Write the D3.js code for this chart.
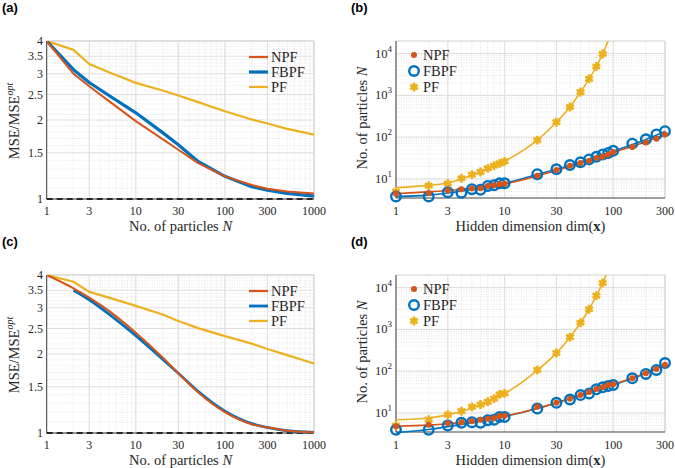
<!DOCTYPE html>
<html><head><meta charset="utf-8">
<script src="https://cdn.jsdelivr.net/npm/d3@7"></script>
<style>body{margin:0;background:#fff}text{font-family:"Liberation Serif","Times New Roman",serif;fill:#262626}</style>
</head><body>
<svg id="chart" width="675" height="468"></svg>
<script>
// ---------- data ----------
const particleN = [1,2,3,5,10,20,30,50,100,200,300,500,1000];
const aNPF  = [4.0,3.0,2.69,2.36,1.98,1.69,1.54,1.37,1.22,1.13,1.094,1.069,1.05];
const aFBPF = [4.0,3.11,2.78,2.48,2.13,1.79,1.61,1.39,1.22,1.114,1.08,1.05,1.026];
const aPF   = [4.0,3.70,3.27,3.04,2.77,2.59,2.48,2.34,2.16,2.01,1.94,1.85,1.76];
const cNPF  = [4.0,3.56,3.28,2.92,2.41,1.94,1.69,1.43,1.20,1.08,1.05,1.02,1.005];
const cFBPF = [null,3.50,3.22,2.84,2.35,1.91,1.69,1.44,1.21,1.085,1.05,1.02,1.005];
const cPF   = [4.0,3.77,3.45,3.28,3.05,2.83,2.67,2.51,2.34,2.19,2.09,1.98,1.84];

const dimX  = [1,2,3,4,5,6,7,8,9,10,20,30,40,50,60,70,80,90,100,150,200,250,300];
const pfX   = [1,2,3,4,5,6,7,8,9,10,20,30,40,50,60,70,80];
const bNPF  = [4.4,4.6,5.4,5.7,5.9,6.0,6.8,7.1,7.5,7.7,12,16.4,20.8,24,27.4,31.6,34,38.6,44,58,75,91,116];
const bFBPF = [3.8,3.8,4.8,4.7,5.7,5.5,6.8,7.1,7.9,7.9,13,17,21.5,25,29.4,34,38.6,42,47,70,89,116,139];
const bPF   = [5.0,6.9,7.7,10.4,12.7,14.7,17.9,20.8,23.6,26.3,85,228,527,1200,2490,4900,9800];
const dNPF  = [4.8,5.2,5.7,6.0,6.3,6.9,7.3,7.6,8.4,8.6,14,17.5,22,26.7,31.6,37.4,41,46.7,48.5,67.6,89,112,142];
const dFBPF = [3.95,3.95,5.0,5.8,6.0,5.8,6.7,6.9,8.0,8.0,12.7,17.5,21,26.7,29,36.7,41,44,46.7,67.6,86,107,156];
const dPF   = [5.0,6.9,9.1,11,14,15.9,18.5,22,27.8,29.4,107,272,650,1440,3030,6400,13000];

// fitted curves drawn through the markers
const fitX     = [1,2,3,5,10,20,30,50,100,200,300];
const pfFitX   = [1,2,3,5,10,20,30,40,50,60,70,80,90];
const bNPFfit  = [4.5,4.9,5.3,6.0,7.6,11.8,16,24,43,78,118];
const bFBPFfit = [3.8,4.1,4.6,5.6,7.8,12.8,17,25.5,46,88,137];
const bPFfit   = [6.2,7.0,8.0,12.3,26.5,85,228,527,1200,2490,4900,9800,20500];
const dNPFfit  = [4.8,5.1,5.5,6.3,8.4,13,17.5,26,48,90,140];
const dFBPFfit = [3.4,4.0,4.7,5.9,8.2,12.8,17.5,26,47,89,148];
const dPFfit   = [6.9,7.6,9.0,13,29,105,270,650,1440,3030,6400,13000,27000];

const mseTicks   = [1,1.5,2,2.5,3,3.5,4];
const nTicks     = [1,3,10,30,100,300,1000];
const dimTicks   = [1,3,10,30,100,300];
const countTicks = [10,100,1000,10000];
const seriesNames = ["NPF","FBPF","PF"];
const colors = {NPF:"#D95319", FBPF:"#0072BD", PF:"#EDB120"};

// ---------- helpers ----------
const svg = d3.select("#chart");
let clipId = 0;

function logMinor(lo, hi) {
  const out = [];
  for (let e = Math.floor(Math.log10(lo)); e <= Math.ceil(Math.log10(hi)); e++)
    for (let m = 1; m < 10; m++) { const v = m * Math.pow(10, e); if (v > lo && v < hi) out.push(v); }
  return out;
}

function frame(g, x, y, xMinor, yMinor, xMajor, yMajor) {
  const [x0, x1] = x.range(), [y0, y1] = y.range();
  g.append("g").selectAll("line").data(xMinor).join("line")
    .attr("x1", d => x(d)).attr("x2", d => x(d)).attr("y1", y0).attr("y2", y1)
    .attr("stroke", "#e0e0e0").attr("stroke-dasharray", "1,1.5").attr("stroke-width", 0.8);
  g.append("g").selectAll("line").data(yMinor).join("line")
    .attr("y1", d => y(d)).attr("y2", d => y(d)).attr("x1", x0).attr("x2", x1)
    .attr("stroke", "#e0e0e0").attr("stroke-dasharray", "1,1.5").attr("stroke-width", 0.8);
  g.append("g").selectAll("line").data(xMajor).join("line")
    .attr("x1", d => x(d)).attr("x2", d => x(d)).attr("y1", y0).attr("y2", y1)
    .attr("stroke", "#dedede").attr("stroke-width", 1);
  g.append("g").selectAll("line").data(yMajor).join("line")
    .attr("y1", d => y(d)).attr("y2", d => y(d)).attr("x1", x0).attr("x2", x1)
    .attr("stroke", "#dedede").attr("stroke-width", 1);
  g.append("line").attr("x1", x0).attr("x2", x1).attr("y1", y1).attr("y2", y1).attr("stroke", "#d0d0d0");
  g.append("line").attr("x1", x1).attr("x2", x1).attr("y1", y0).attr("y2", y1).attr("stroke", "#d0d0d0");
  g.append("line").attr("x1", x0).attr("x2", x1).attr("y1", y0).attr("y2", y0).attr("stroke", "#404040");
  g.append("line").attr("x1", x0).attr("x2", x0).attr("y1", y0).attr("y2", y1).attr("stroke", "#404040");
  const id = "clip" + (clipId++);
  g.append("clipPath").attr("id", id).append("rect")
    .attr("x", x0 - 8).attr("y", y1).attr("width", x1 - x0 + 16).attr("height", y0 - y1 + 8);
  return "url(#" + id + ")";
}

function xTickLabels(g, x, ticks, yb) {
  g.append("g").selectAll("text").data(ticks).join("text")
    .attr("x", d => x(d)).attr("y", yb).attr("text-anchor", "middle")
    .attr("font-size", 12).text(d => d);
}

function panelLabel(txt, px, py) {
  svg.append("text").attr("x", px).attr("y", py).text(txt)
    .style("font-family", "Liberation Sans, Arial, sans-serif").style("font-weight", "bold")
    .attr("font-size", 13).style("fill", "#000");
}

function xLabelN(g, cx, yb) {
  const t = g.append("text").attr("x", cx).attr("y", yb).attr("text-anchor", "middle").attr("font-size", 14.5);
  t.append("tspan").text("No.  of particles ");
  t.append("tspan").attr("font-style", "italic").text("N");
}

// ---------- MSE panels (a), (c) ----------
function msePanel(off, npf, fbpf, pf, label, fbpfWidth, smoothMain) {
  const g = svg.append("g");
  const x = d3.scaleLog().domain([1, 1000]).range([46.7, 314]);
  const y = d3.scaleLog().domain([1, 4]).range([199 + off, 41 + off]);
  const yMinor = d3.range(1.1, 4.0, 0.1).map(v => +v.toFixed(2)).filter(v => !mseTicks.includes(v));
  const clip = frame(g, x, y, logMinor(1, 1000), yMinor, nTicks, mseTicks);
  const lineLin = d3.line().defined(d => d[1] != null).x(d => x(d[0])).y(d => y(d[1]));
  const lineMain = d3.line().defined(d => d[1] != null).x(d => x(d[0])).y(d => y(d[1]))
    .curve(smoothMain ? d3.curveMonotoneX : d3.curveLinear);
  const pg = g.append("g").attr("clip-path", clip);
  pg.append("line").attr("x1", x(1)).attr("x2", x(1000)).attr("y1", y(1)).attr("y2", y(1))
    .attr("stroke", "#000").attr("stroke-width", 1.6).attr("stroke-dasharray", "6,4");
  pg.append("path").datum(particleN.map((n, i) => [n, pf[i]])).attr("d", lineLin)
    .attr("fill", "none").attr("stroke", colors.PF).attr("stroke-width", 2.2).attr("stroke-linejoin", "round");
  pg.append("path").datum(particleN.map((n, i) => [n, fbpf[i]])).attr("d", lineMain)
    .attr("fill", "none").attr("stroke", colors.FBPF).attr("stroke-width", fbpfWidth).attr("stroke-linejoin", "round");
  pg.append("path").datum(particleN.map((n, i) => [n, npf[i]])).attr("d", lineMain)
    .attr("fill", "none").attr("stroke", colors.NPF).attr("stroke-width", 2).attr("stroke-linejoin", "round");
  g.append("g").selectAll("text").data(mseTicks).join("text")
    .attr("x", 43).attr("y", d => y(d) + 4).attr("text-anchor", "end")
    .attr("font-size", 12).text(d => d);
  xTickLabels(g, x, nTicks, 215 + off);
  xLabelN(g, 180.5, 231 + off);
  const yl = g.append("text").attr("transform", `translate(19,${121 + off}) rotate(-90)`)
    .attr("text-anchor", "middle").attr("font-size", 14.5);
  yl.append("tspan").text("MSE/MSE");
  yl.append("tspan").attr("font-style", "italic").attr("font-size", 10).attr("dy", -6).text("opt");
  const rows = [57, 72, 87];
  seriesNames.forEach((s, i) => {
    g.append("line").attr("x1", 249).attr("x2", 268).attr("y1", rows[i] + off).attr("y2", rows[i] + off)
      .attr("stroke", colors[s]).attr("stroke-width", s === "FBPF" ? fbpfWidth : 2.2);
    g.append("text").attr("x", 271).attr("y", rows[i] + off + 5).attr("font-size", 14.5).text(s);
  });
  panelLabel(label, 2, 12 + off);
}

// ---------- dimension panels (b), (d) ----------
function dimPanel(off, npf, fbpf, pf, npfFit, fbpfFit, pfFit, label) {
  const g = svg.append("g");
  const x = d3.scaleLog().domain([1, 300]).range([396, 665]);
  const y = d3.scaleLog().domain([3.5, 20000]).range([198 + off, 41 + off]);
  const clip = frame(g, x, y, logMinor(1, 300), logMinor(3.5, 20000), dimTicks, countTicks);
  const line = d3.line().x(d => x(d[0])).y(d => y(d[1])).curve(d3.curveMonotoneX);
  const pg = g.append("g").attr("clip-path", clip);
  pg.append("path").datum(pfFitX.map((v, i) => [v, pfFit[i]])).attr("d", line)
    .attr("fill", "none").attr("stroke", colors.PF).attr("stroke-width", 1.6);
  pg.append("path").datum(fitX.map((v, i) => [v, fbpfFit[i]])).attr("d", line)
    .attr("fill", "none").attr("stroke", colors.FBPF).attr("stroke-width", 1.6);
  pg.append("path").datum(fitX.map((v, i) => [v, npfFit[i]])).attr("d", line)
    .attr("fill", "none").attr("stroke", colors.NPF).attr("stroke-width", 1.6);
  const star = d3.symbol().type(d3.symbolAsterisk).size(55);
  const sq = d3.symbol().type(d3.symbolSquare).size(24);
  pg.append("g").selectAll("g").data(pfX.map((v, i) => [v, pf[i]])).join("g")
    .attr("transform", d => `translate(${x(d[0])},${y(d[1])})`)
    .each(function () {
      d3.select(this).append("path").attr("d", sq).attr("fill", colors.PF);
      d3.select(this).append("path").attr("d", star).attr("fill", "none").attr("stroke", colors.PF).attr("stroke-width", 2.6);
    });
  pg.append("g").selectAll("circle").data(dimX.map((v, i) => [v, fbpf[i]])).join("circle")
    .attr("cx", d => x(d[0])).attr("cy", d => y(d[1])).attr("r", 4.8)
    .attr("fill", "none").attr("stroke", colors.FBPF).attr("stroke-width", 2.4);
  pg.append("g").selectAll("circle").data(dimX.map((v, i) => [v, npf[i]])).join("circle")
    .attr("cx", d => x(d[0])).attr("cy", d => y(d[1])).attr("r", 3).attr("fill", colors.NPF);
  g.append("g").selectAll("text").data(countTicks).join("text")
    .attr("x", 392).attr("y", d => y(d) + 4).attr("text-anchor", "end").attr("font-size", 12.5)
    .each(function (d) {
      const t = d3.select(this);
      t.append("tspan").text("10");
      t.append("tspan").attr("font-size", 9).attr("dy", -6).text(Math.round(Math.log10(d)));
    });
  xTickLabels(g, x, dimTicks, 215 + off);
  const xl = g.append("text").attr("x", 530.5).attr("y", 231 + off).attr("text-anchor", "middle").attr("font-size", 14.5);
  xl.append("tspan").text("Hidden dimension dim(");
  xl.append("tspan").attr("font-weight", "bold").text("x");
  xl.append("tspan").text(")");
  const yl = g.append("text").attr("transform", `translate(367,${118 + off}) rotate(-90)`)
    .attr("text-anchor", "middle").attr("font-size", 14.5);
  yl.append("tspan").text("No.  of particles ");
  yl.append("tspan").attr("font-style", "italic").text("N");
  const rows = [55, 71, 87];
  const lg = g.append("g");
  lg.append("circle").attr("cx", 414).attr("cy", rows[0] + off).attr("r", 3).attr("fill", colors.NPF);
  lg.append("circle").attr("cx", 414).attr("cy", rows[1] + off).attr("r", 4.8).attr("fill", "none")
    .attr("stroke", colors.FBPF).attr("stroke-width", 2.4);
  const pfl = lg.append("g").attr("transform", `translate(414,${rows[2] + off})`);
  pfl.append("path").attr("d", sq).attr("fill", colors.PF);
  pfl.append("path").attr("d", star).attr("fill", "none").attr("stroke", colors.PF).attr("stroke-width", 2.6);
  seriesNames.forEach((s, i) => {
    lg.append("text").attr("x", 423).attr("y", rows[i] + off + 5).attr("font-size", 14.5).text(s);
  });
  panelLabel(label, 351, 12 + off);
}

msePanel(0, aNPF, aFBPF, aPF, "(a)", 3.2, false);
dimPanel(0, bNPF, bFBPF, bPF, bNPFfit, bFBPFfit, bPFfit, "(b)");
msePanel(234, cNPF, cFBPF, cPF, "(c)", 2.8, true);
dimPanel(234, dNPF, dFBPF, dPF, dNPFfit, dFBPFfit, dPFfit, "(d)");
</script>
</body></html>
